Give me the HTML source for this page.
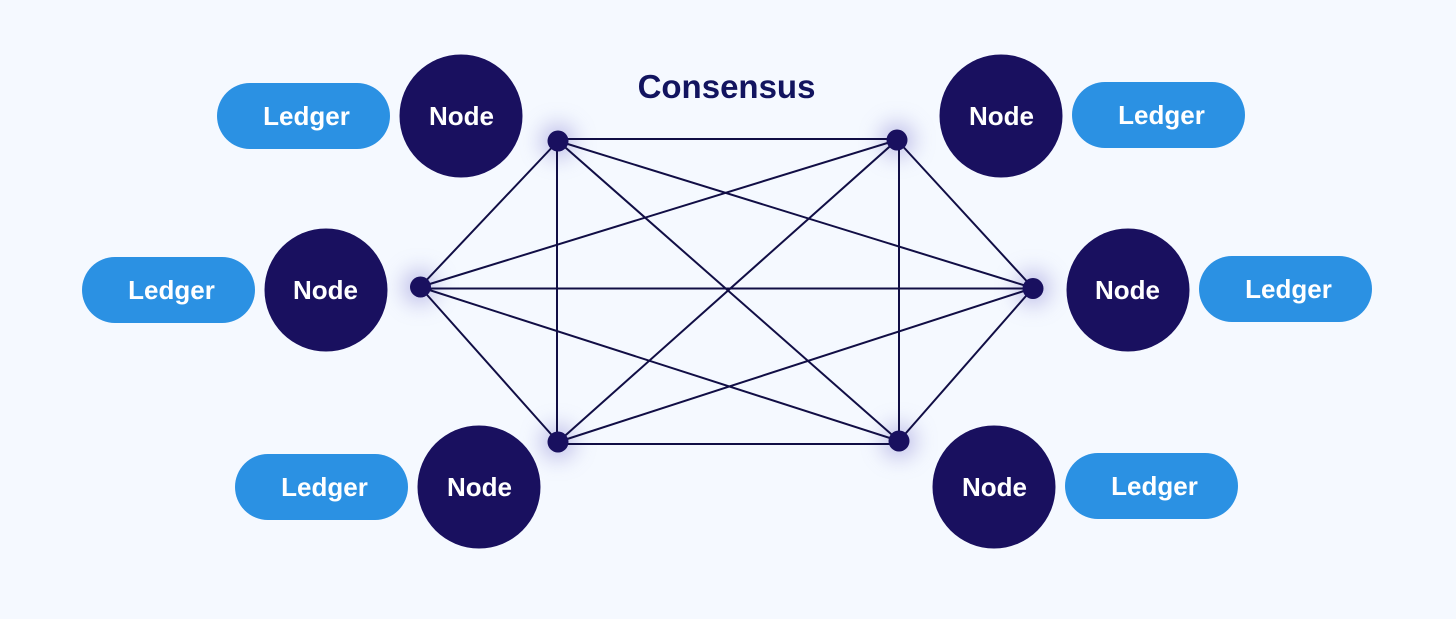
<!DOCTYPE html>
<html>
<head>
<meta charset="utf-8">
<style>
html,body{margin:0;padding:0;background:#f5f9ff;}
svg{display:block;}
text{font-family:"Liberation Sans",sans-serif;font-weight:700;text-anchor:middle;}
</style>
</head>
<body>
<svg width="1456" height="619" viewBox="0 0 1456 619" xmlns="http://www.w3.org/2000/svg">
<defs>
<filter id="g" x="-300%" y="-300%" width="700%" height="700%"><feGaussianBlur stdDeviation="11"/></filter>
</defs>
<rect width="1456" height="619" fill="#f5f9ff"/>
<g fill="#a5a3de" opacity="0.7" filter="url(#g)">
<circle cx="558" cy="141" r="17"/>
<circle cx="897" cy="140" r="17"/>
<circle cx="420" cy="287" r="17"/>
<circle cx="1033" cy="288" r="17"/>
<circle cx="558" cy="442" r="17"/>
<circle cx="899" cy="441" r="17"/>
</g>
<g stroke="#110e45" stroke-width="2" fill="none">
<line x1="558" y1="139" x2="897" y2="139"/>
<line x1="558" y1="444" x2="899" y2="444"/>
<line x1="420" y1="288.5" x2="1033" y2="288.5"/>
<line x1="557" y1="141" x2="557" y2="442"/>
<line x1="899" y1="140" x2="899" y2="441"/>
<line x1="558" y1="141" x2="420" y2="287"/>
<line x1="558" y1="141" x2="899" y2="441"/>
<line x1="558" y1="141" x2="1033" y2="288"/>
<line x1="897" y1="140" x2="420" y2="287"/>
<line x1="897" y1="140" x2="558" y2="442"/>
<line x1="897" y1="140" x2="1033" y2="288"/>
<line x1="420" y1="287" x2="558" y2="442"/>
<line x1="420" y1="287" x2="899" y2="441"/>
<line x1="1033" y1="288" x2="558" y2="442"/>
<line x1="1033" y1="288" x2="899" y2="441"/>
</g>
<g fill="#19105f">
<circle cx="558" cy="141" r="10.5"/>
<circle cx="897" cy="140" r="10.5"/>
<circle cx="420.500" cy="287" r="10.5"/>
<circle cx="1033" cy="288.500" r="10.5"/>
<circle cx="558" cy="442" r="10.5"/>
<circle cx="899" cy="441" r="10.5"/>
<circle cx="461" cy="116" r="61.500"/>
<circle cx="326" cy="290" r="61.500"/>
<circle cx="479" cy="487" r="61.500"/>
<circle cx="1001" cy="116" r="61.500"/>
<circle cx="1128" cy="290" r="61.500"/>
<circle cx="994" cy="487" r="61.500"/>
</g>
<g fill="#2b91e3">
<rect x="217" y="83" width="173" height="66" rx="33"/>
<rect x="82" y="257" width="173" height="66" rx="33"/>
<rect x="235" y="454" width="173" height="66" rx="33"/>
<rect x="1072" y="82" width="173" height="66" rx="33"/>
<rect x="1199" y="256" width="173" height="66" rx="33"/>
<rect x="1065" y="453" width="173" height="66" rx="33"/>
</g>
<text x="726.500" y="98" font-size="33" fill="#12145f">Consensus</text>
<g font-size="26" fill="#ffffff">
<text x="306.500" y="125">Ledger</text>
<text x="171.500" y="299">Ledger</text>
<text x="324.500" y="496">Ledger</text>
<text x="1161.500" y="124">Ledger</text>
<text x="1288.500" y="298">Ledger</text>
<text x="1154.500" y="495">Ledger</text>
<text x="461.500" y="125">Node</text>
<text x="325.500" y="299">Node</text>
<text x="479.500" y="496">Node</text>
<text x="1001.500" y="125">Node</text>
<text x="1127.500" y="299">Node</text>
<text x="994.500" y="496">Node</text>
</g>
</svg>
</body>
</html>
